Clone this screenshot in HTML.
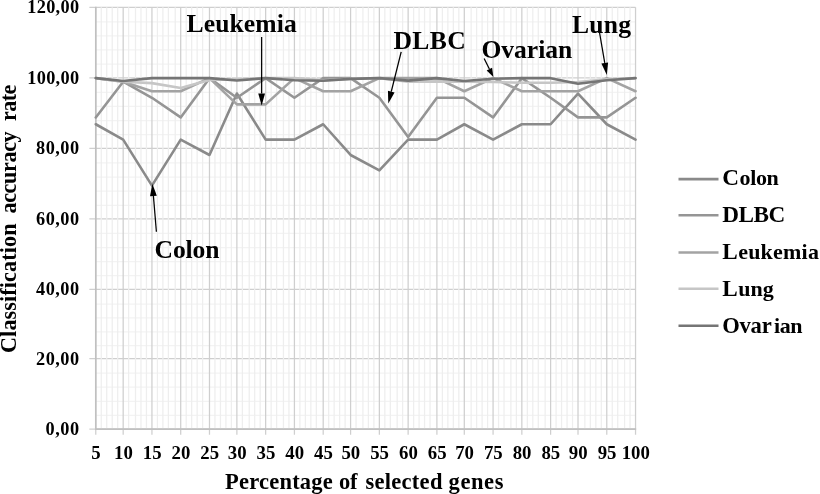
<!DOCTYPE html><html><head><meta charset="utf-8"><title>Chart</title><style>html,body{margin:0;padding:0;background:#fff}svg{display:block}text{font-family:"Liberation Serif","DejaVu Serif",serif;font-weight:bold;fill:#000}</style></head><body>
<svg width="820" height="494" viewBox="0 0 820 494">
<defs><filter id="soft" x="0" y="0" width="820" height="494" filterUnits="userSpaceOnUse"><feGaussianBlur stdDeviation="0.5"/></filter></defs>
<rect width="820" height="494" fill="#fff"/>
<g filter="url(#soft)">
<path d="M89.37 429.10H635.55M89.37 358.60H635.55M89.37 289.40H635.55M89.37 218.95H635.55M89.37 148.45H635.55M89.37 77.75H635.55M89.37 7.30H635.55" stroke="#cfcfcf" stroke-width="1.25" fill="none"/>
<path d="M95.77 415.40H635.55M95.77 401.30H635.55M95.77 387.20H635.55M95.77 373.10H635.55M95.77 345.61H635.55M95.77 331.77H635.55M95.77 317.93H635.55M95.77 304.09H635.55M95.77 275.71H635.55M95.77 261.62H635.55M95.77 247.53H635.55M95.77 233.44H635.55M95.77 205.25H635.55M95.77 191.15H635.55M95.77 177.05H635.55M95.77 162.95H635.55M95.77 134.71H635.55M95.77 120.57H635.55M95.77 106.43H635.55M95.77 92.29H635.55M95.77 64.06H635.55M95.77 49.97H635.55M95.77 35.88H635.55M95.77 21.79H635.55" stroke="#f3f3f3" stroke-width="1.25" fill="none"/>
<path d="M101.25 7.30V429.10M106.73 7.30V429.10M112.21 7.30V429.10M117.69 7.30V429.10M128.65 7.30V429.10M135.50 7.30V429.10M140.98 7.30V429.10M146.46 7.30V429.10M157.42 7.30V429.10M162.90 7.30V429.10M168.38 7.30V429.10M175.23 7.30V429.10M186.19 7.30V429.10M191.67 7.30V429.10M197.15 7.30V429.10M202.63 7.30V429.10M214.96 7.30V429.10M220.44 7.30V429.10M225.92 7.30V429.10M231.40 7.30V429.10M242.36 7.30V429.10M249.21 7.30V429.10M254.69 7.30V429.10M260.17 7.30V429.10M271.13 7.30V429.10M276.61 7.30V429.10M283.46 7.30V429.10M288.94 7.30V429.10M299.90 7.30V429.10M305.38 7.30V429.10M310.86 7.30V429.10M316.34 7.30V429.10M328.67 7.30V429.10M334.15 7.30V429.10M339.63 7.30V429.10M345.11 7.30V429.10M356.07 7.30V429.10M362.92 7.30V429.10M368.40 7.30V429.10M373.88 7.30V429.10M384.84 7.30V429.10M390.32 7.30V429.10M397.17 7.30V429.10M402.65 7.30V429.10M413.61 7.30V429.10M419.09 7.30V429.10M424.57 7.30V429.10M430.05 7.30V429.10M442.38 7.30V429.10M447.86 7.30V429.10M453.34 7.30V429.10M458.82 7.30V429.10M471.15 7.30V429.10M476.63 7.30V429.10M482.11 7.30V429.10M487.59 7.30V429.10M498.55 7.30V429.10M504.03 7.30V429.10M510.88 7.30V429.10M516.36 7.30V429.10M527.32 7.30V429.10M532.80 7.30V429.10M538.28 7.30V429.10M545.13 7.30V429.10M556.09 7.30V429.10M561.57 7.30V429.10M567.05 7.30V429.10M572.53 7.30V429.10M584.86 7.30V429.10M590.34 7.30V429.10M595.82 7.30V429.10M601.30 7.30V429.10M612.26 7.30V429.10M617.74 7.30V429.10M624.59 7.30V429.10M630.07 7.30V429.10" stroke="#eeeeee" stroke-width="1.25" fill="none"/>
<path d="M95.77 7.30V434.80M123.17 7.30V434.80M151.94 7.30V434.80M180.71 7.30V434.80M209.48 7.30V434.80M236.88 7.30V434.80M265.65 7.30V434.80M294.42 7.30V434.80M323.19 7.30V434.80M350.59 7.30V434.80M379.36 7.30V434.80M408.13 7.30V434.80M436.90 7.30V434.80M464.30 7.30V434.80M493.07 7.30V434.80M521.84 7.30V434.80M550.61 7.30V434.80M578.01 7.30V434.80M606.78 7.30V434.80M635.55 7.30V434.80" stroke="#cfcfcf" stroke-width="1.25" fill="none"/>
<path d="M95.77 6.70V429.10H636.15" stroke="#c0c0c0" stroke-width="1.6" fill="none"/>
<polyline points="95.77,124.25 123.17,139.62 151.94,185.62 180.71,139.62 209.48,154.98 236.88,93.53 265.65,139.62 294.42,139.62 323.19,124.25 350.59,154.98 379.36,170.32 408.13,139.62 436.90,139.62 464.30,124.25 493.07,139.62 521.84,124.25 550.61,124.25 578.01,93.53 606.78,124.25 635.55,139.62" stroke="#8a8a8a" stroke-width="2.6" fill="none" stroke-linejoin="round" stroke-linecap="round"/>
<polyline points="95.77,117.42 123.17,81.69 151.94,97.80 180.71,117.42 209.48,78.15 236.88,97.80 265.65,78.15 294.42,97.80 323.19,78.15 350.59,78.15 379.36,97.80 408.13,137.08 436.90,97.80 464.30,97.80 493.07,117.42 521.84,78.15 550.61,97.80 578.01,117.42 606.78,117.42 635.55,97.80" stroke="#959595" stroke-width="2.6" fill="none" stroke-linejoin="round" stroke-linecap="round"/>
<polyline points="95.77,78.15 123.17,81.69 151.94,91.23 180.71,91.23 209.48,78.15 236.88,104.34 265.65,104.34 294.42,78.15 323.19,91.23 350.59,91.23 379.36,78.15 408.13,78.15 436.90,78.15 464.30,91.23 493.07,78.15 521.84,91.23 550.61,91.23 578.01,91.23 606.78,78.15 635.55,91.23" stroke="#a3a3a3" stroke-width="2.6" fill="none" stroke-linejoin="round" stroke-linecap="round"/>
<polyline points="95.77,78.15 123.17,81.69 151.94,83.10 180.71,88.05 209.48,79.92 236.88,79.21 265.65,78.15 294.42,78.15 323.19,80.27 350.59,78.86 379.36,78.15 408.13,81.69 436.90,81.33 464.30,81.69 493.07,82.04 521.84,82.75 550.61,82.75 578.01,82.04 606.78,79.21 635.55,78.15" stroke="#c6c6c6" stroke-width="2.6" fill="none" stroke-linejoin="round" stroke-linecap="round"/>
<polyline points="95.77,78.15 123.17,80.98 151.94,78.15 180.71,78.15 209.48,78.15 236.88,80.45 265.65,78.15 294.42,80.27 323.19,80.80 350.59,78.86 379.36,78.15 408.13,80.62 436.90,78.15 464.30,80.98 493.07,78.68 521.84,78.15 550.61,78.15 578.01,83.81 606.78,80.27 635.55,78.15" stroke="#757575" stroke-width="2.6" fill="none" stroke-linejoin="round" stroke-linecap="round"/>
<text x="45.50" y="435.00" font-size="18.3" textLength="33.6" lengthAdjust="spacing">0,00</text>
<text x="36.10" y="364.50" font-size="18.3" textLength="43.0" lengthAdjust="spacing">20,00</text>
<text x="36.10" y="295.30" font-size="18.3" textLength="43.0" lengthAdjust="spacing">40,00</text>
<text x="36.10" y="224.85" font-size="18.3" textLength="43.0" lengthAdjust="spacing">60,00</text>
<text x="36.10" y="154.35" font-size="18.3" textLength="43.0" lengthAdjust="spacing">80,00</text>
<text x="27.20" y="83.65" font-size="18.3" textLength="51.9" lengthAdjust="spacing">100,00</text>
<text x="27.20" y="13.20" font-size="18.3" textLength="51.9" lengthAdjust="spacing">120,00</text>
<text x="96.02" y="458.7" font-size="18.8" text-anchor="middle">5</text>
<text x="123.42" y="458.7" font-size="18.8" text-anchor="middle">10</text>
<text x="152.19" y="458.7" font-size="18.8" text-anchor="middle">15</text>
<text x="180.96" y="458.7" font-size="18.8" text-anchor="middle">20</text>
<text x="209.73" y="458.7" font-size="18.8" text-anchor="middle">25</text>
<text x="237.13" y="458.7" font-size="18.8" text-anchor="middle">30</text>
<text x="265.90" y="458.7" font-size="18.8" text-anchor="middle">35</text>
<text x="294.67" y="458.7" font-size="18.8" text-anchor="middle">40</text>
<text x="323.44" y="458.7" font-size="18.8" text-anchor="middle">45</text>
<text x="350.84" y="458.7" font-size="18.8" text-anchor="middle">50</text>
<text x="379.61" y="458.7" font-size="18.8" text-anchor="middle">55</text>
<text x="408.38" y="458.7" font-size="18.8" text-anchor="middle">60</text>
<text x="437.15" y="458.7" font-size="18.8" text-anchor="middle">65</text>
<text x="464.55" y="458.7" font-size="18.8" text-anchor="middle">70</text>
<text x="493.32" y="458.7" font-size="18.8" text-anchor="middle">75</text>
<text x="522.09" y="458.7" font-size="18.8" text-anchor="middle">80</text>
<text x="550.86" y="458.7" font-size="18.8" text-anchor="middle">85</text>
<text x="578.26" y="458.7" font-size="18.8" text-anchor="middle">90</text>
<text x="607.03" y="458.7" font-size="18.8" text-anchor="middle">95</text>
<text x="635.80" y="458.7" font-size="18.8" text-anchor="middle">100</text>
<text x="225.0" y="488.9" font-size="22.5" textLength="107.8" lengthAdjust="spacing">Percentage</text>
<text x="339.0" y="488.9" font-size="22.5" textLength="18.6" lengthAdjust="spacing">of</text>
<text x="365.5" y="488.9" font-size="22.5" textLength="76.9" lengthAdjust="spacing">selected</text>
<text x="448.6" y="488.9" font-size="22.5" textLength="54.8" lengthAdjust="spacing">genes</text>
<text transform="translate(15.8 353.0) rotate(-90)" font-size="22.2" textLength="129.6" lengthAdjust="spacing">Classification</text>
<text transform="translate(15.8 213.5) rotate(-90)" font-size="22.2" textLength="82.2" lengthAdjust="spacing">accuracy</text>
<text transform="translate(15.8 121.1) rotate(-90)" font-size="22.2" textLength="36.5" lengthAdjust="spacing">rate</text>
<line x1="678.5" x2="718.5" y1="179.1" y2="179.1" stroke="#8a8a8a" stroke-width="2.6"/>
<text y="184.6" font-size="22"><tspan x="722.2" font-size="23.2">C</tspan><tspan x="739.5" font-size="22" textLength="39.3" lengthAdjust="spacing">olon</tspan></text>
<line x1="678.5" x2="718.5" y1="215.3" y2="215.3" stroke="#959595" stroke-width="2.6"/>
<text y="221.9" font-size="22"><tspan x="722.2" font-size="23.2" textLength="63.0" lengthAdjust="spacing">DLBC</tspan></text>
<line x1="678.5" x2="718.5" y1="252.5" y2="252.5" stroke="#a3a3a3" stroke-width="2.6"/>
<text y="258.6" font-size="22"><tspan x="722.2" font-size="23.2">L</tspan><tspan x="738.2" font-size="22" textLength="80.7" lengthAdjust="spacing">eukemia</tspan></text>
<line x1="678.5" x2="718.5" y1="288.8" y2="288.8" stroke="#c6c6c6" stroke-width="2.6"/>
<text y="295.6" font-size="22"><tspan x="722.2" font-size="23.2">L</tspan><tspan x="738.2" font-size="22" textLength="35.5" lengthAdjust="spacing">ung</tspan></text>
<line x1="678.5" x2="718.5" y1="325.8" y2="325.8" stroke="#757575" stroke-width="2.6"/>
<text y="332.9" font-size="22"><tspan x="722.2" font-size="22.6" textLength="49.5" lengthAdjust="spacing">Ovar</tspan><tspan x="774.0" font-size="22" textLength="28.5" lengthAdjust="spacing">ian</tspan></text>
<text x="186.5" y="32.3" font-size="25.6" textLength="110.3" lengthAdjust="spacing">Leukemia</text>
<text x="393.4" y="49.4" font-size="25.6" textLength="72.3" lengthAdjust="spacing">DLBC</text>
<text x="481.4" y="57.6" font-size="25.6" textLength="90.8" lengthAdjust="spacing">Ovarian</text>
<text x="571.9" y="32.5" font-size="25.6" textLength="59.2" lengthAdjust="spacing">Lung</text>
<text x="154.6" y="258.1" font-size="25.6" textLength="64.8" lengthAdjust="spacing">Colon</text>
<line x1="261.65" y1="36.90" x2="261.65" y2="93.40" stroke="#000" stroke-width="1.25"/><polygon points="261.65,105.60 258.25,93.40 265.05,93.40" fill="#000"/>
<line x1="401.20" y1="51.90" x2="391.26" y2="91.66" stroke="#000" stroke-width="1.25"/><polygon points="388.30,103.50 387.96,90.84 394.56,92.49" fill="#000"/>
<line x1="484.10" y1="58.50" x2="489.38" y2="69.05" stroke="#000" stroke-width="1.25"/><polygon points="493.40,77.10 486.69,70.39 492.06,67.71" fill="#000"/>
<line x1="599.00" y1="29.50" x2="604.74" y2="62.98" stroke="#000" stroke-width="1.25"/><polygon points="606.80,75.00 601.39,63.55 608.09,62.40" fill="#000"/>
<line x1="156.40" y1="231.70" x2="153.42" y2="195.96" stroke="#000" stroke-width="1.25"/><polygon points="152.40,183.80 156.80,195.67 150.03,196.24" fill="#000"/>
</g></svg></body></html>
